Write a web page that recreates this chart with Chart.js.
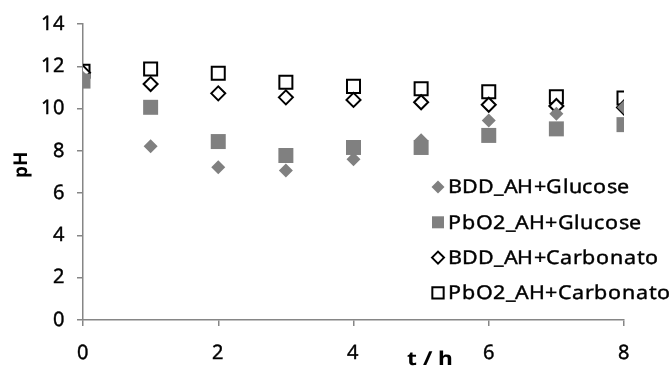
<!DOCTYPE html>
<html>
<head>
<meta charset="utf-8">
<script src="https://cdn.jsdelivr.net/npm/chart.js@4/dist/chart.umd.min.js"></script>
<style>
  @font-face { font-family: 'NS'; src: local('Noto Sans'), local('NotoSans-Regular'), local('Noto Sans Regular'); font-weight: 400; }
  @font-face { font-family: 'NS'; src: local('Noto Sans Bold'), local('NotoSans-Bold'); font-weight: 700; }
  html, body { margin: 0; padding: 0; background: #fff; }
  #wrap { width: 669px; height: 367px; position: relative; }
  .probe { position: absolute; left: -9999px; top: 0; font-family: 'NS', 'Noto Sans', sans-serif; }
</style>
</head>
<body>
<div id="wrap"><canvas id="c" width="669" height="367"></canvas></div>
<span class="probe">BDD pH</span><span class="probe" style="font-weight:700">t / h pH</span>
<script>
// ---- data ----
const timeH = [0, 1, 2, 3, 4, 5, 6, 7, 8];
const bddGlucose = [11.45, 8.22, 7.23, 7.07, 7.6, 8.5, 9.43, 9.75, 10.06];
const pbo2Glucose = [11.3, 10.06, 8.44, 7.78, 8.16, 8.16, 8.73, 9.04, 9.24];
const bddCarbonato = [11.7, 11.16, 10.72, 10.53, 10.41, 10.3, 10.18, 10.12, 10.05];
const pbo2Carbonato = [11.76, 11.87, 11.67, 11.24, 11.05, 10.94, 10.79, 10.56, 10.5];
const seriesNames = ['BDD_AH+Glucose', 'PbO2_AH+Glucose', 'BDD_AH+Carbonato', 'PbO2_AH+Carbonato'];
const yTicks = [0, 2, 4, 6, 8, 10, 12, 14];
const xTicks = [0, 2, 4, 6, 8];
const xTitle = 't / h';
const yTitle = 'pH';

const GRAY = '#808080';
const AXIS = '#868686';
const FONT = "NS, 'Noto Sans', sans-serif";

function pts(vals) { return timeH.map((t, i) => ({ x: t, y: vals[i] })); }

const styles = [
  { pointStyle: 'rectRot', radius: 7, bg: GRAY, border: GRAY, bw: 0, lr: 6.5 },
  { pointStyle: 'rect', radius: 10.6, bg: GRAY, border: GRAY, bw: 0, lr: 8.5 },
  { pointStyle: 'rectRot', radius: 7, bg: '#fff', border: '#000', bw: 2, lr: 6 },
  { pointStyle: 'rect', radius: 9.2, bg: '#fff', border: '#000', bw: 2, lr: 8 }
];
const allVals = [bddGlucose, pbo2Glucose, bddCarbonato, pbo2Carbonato];

const datasets = allVals.map((v, i) => ({
  label: seriesNames[i],
  data: pts(v),
  showLine: false,
  pointStyle: styles[i].pointStyle,
  pointRadius: styles[i].radius,
  pointHoverRadius: styles[i].radius,
  pointBackgroundColor: styles[i].bg,
  pointBorderColor: styles[i].border,
  pointBorderWidth: styles[i].bw,
  backgroundColor: styles[i].bg,
  borderColor: styles[i].border
}));

// text drawn with a horizontal stretch (the reference text is wide)
function wideText(ctx, text, x, y, sx, stroke) {
  ctx.save();
  ctx.translate(x, y);
  ctx.scale(sx, 1);
  ctx.fillText(text, 0, 0);
  if (stroke) { ctx.lineWidth = stroke; ctx.strokeStyle = ctx.fillStyle; ctx.strokeText(text, 0, 0); }
  ctx.restore();
}

const spacingPlugin = {
  id: 'spacing',
  beforeDraw(chart) { chart.ctx.letterSpacing = '1.2px'; }
};

const legendPlugin = {
  id: 'insideLegend',
  afterDraw(chart) {
    const ctx = chart.ctx;
    const ca = chart.chartArea;
    const x0 = ca.left + 355;   // marker center
    const y0 = ca.top + 163;
    const step = 35.3;
    ctx.save();
    ctx.letterSpacing = '0.3px';
    ctx.font = "19px " + FONT;
    ctx.textBaseline = 'middle';
    ctx.textAlign = 'left';
    chart.data.datasets.forEach((ds, i) => {
      const s = styles[i];
      const y = y0 + i * step;
      ctx.fillStyle = s.bg;
      ctx.strokeStyle = s.border;
      ctx.lineWidth = s.bw;
      Chart.helpers.drawPoint(ctx, { pointStyle: s.pointStyle, radius: s.lr, rotation: 0, borderWidth: s.bw }, x0, y);
      ctx.fillStyle = '#000';
      wideText(ctx, ds.label, x0 + 10, y + 1, 1.13, 0.4);
    });
    ctx.restore();
  }
};

const titlePlugin = {
  id: 'axisTitles',
  afterDraw(chart) {
    const ctx = chart.ctx;
    const ca = chart.chartArea;
    ctx.save();
    ctx.fillStyle = '#000';
    ctx.letterSpacing = '0px';
    ctx.font = "bold 19px " + FONT;
    ctx.textAlign = 'center';
    ctx.textBaseline = 'alphabetic';
    wideText(ctx, xTitle, ca.left + 347, ca.bottom + 45, 1.2);
    ctx.font = "bold 19px " + FONT;
    ctx.textBaseline = 'middle';
    ctx.translate(ca.left - 61, ca.top + 140);
    ctx.rotate(-Math.PI / 2);
    ctx.fillText(yTitle, 0, 0);
    ctx.restore();
  }
};

function build() {
  new Chart(document.getElementById('c'), {
    type: 'scatter',
    data: { datasets },
    options: {
      responsive: false,
      animation: false,
      devicePixelRatio: 1,
      layout: { padding: { left: 0, right: 45, top: 23, bottom: 0 } },
      plugins: { legend: { display: false }, tooltip: { enabled: false } },
      scales: {
        x: {
          type: 'linear',
          min: 0, max: 8,
          afterBuildTicks(scale) { scale.ticks = xTicks.map(v => ({ value: v })); },
          afterFit(scale) { scale.height = 47; },
          ticks: { color: '#000', font: { family: FONT, size: 20 }, padding: 15, textStrokeColor: '#000', textStrokeWidth: 0.4 },
          grid: { display: true, drawOnChartArea: false, drawTicks: true, tickLength: 6, color: AXIS, lineWidth: 1.5 },
          border: { display: true, color: AXIS, width: 1.5 }
        },
        y: {
          type: 'linear',
          min: 0, max: 14,
          afterBuildTicks(scale) { scale.ticks = yTicks.map(v => ({ value: v })); },
          afterFit(scale) { scale.width = 83; },
          ticks: { color: '#000', font: { family: FONT, size: 20 }, padding: 12, textStrokeColor: '#000', textStrokeWidth: 0.4 },
          grid: { display: true, drawOnChartArea: false, drawTicks: true, tickLength: 6, color: AXIS, lineWidth: 1.5 },
          border: { display: true, color: AXIS, width: 1.5 }
        }
      }
    },
    plugins: [spacingPlugin, legendPlugin, titlePlugin]
  });
}

Promise.all([
  document.fonts.load("18px NS"),
  document.fonts.load("bold 18px NS")
]).catch(() => {}).then(() => document.fonts.ready).then(build, build);
</script>
</body>
</html>
